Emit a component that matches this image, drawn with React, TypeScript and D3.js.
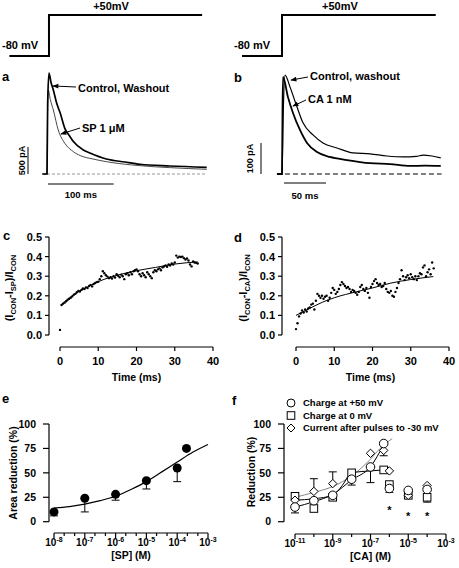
import React from 'react';
import * as d3 from 'd3';

const FONT = "'Liberation Sans', Arial, Helvetica, sans-serif";

// ---------- Panel a: currents (ms, pA) ----------
const aCtrlTime = [-7, 0, 1, 3, 6, 9.6, 14.7, 20, 27, 35, 40, 55, 65, 90, 118, 141, 186, 242];
const aCtrlCurr = [0, 0, 1300, 1870, 1700, 1555, 1309, 1130, 846, 690, 600, 444, 389, 278, 222, 180, 148, 124];
const aSpTime = [-7, 0, 0.8, 2, 5, 9.6, 17, 27, 40, 55, 65, 90, 141, 186, 242];
const aSpCurr = [0, 0, 1100, 1555, 1380, 1185, 815, 569, 413, 320, 290, 228, 154, 118, 87];

// ---------- Panel b: currents (ms, pA) ----------
const bCtrlTime = [-6, 0, 1.5, 3.6, 9.5, 17.9, 25, 36.9, 48.8, 65.5, 84.5, 104.8, 125, 144, 160, 168, 178.6, 189];
const bCtrlCurr = [0, 0, 200, 319, 281, 216, 165, 126, 100, 84, 68, 65, 58, 55, 57, 61, 58, 52];
const bCaTime = [-6, 0, 0.6, 1.2, 7.1, 13.1, 21.4, 29.8, 41.7, 57, 77.4, 104.8, 128.6, 152.4, 170, 189];
const bCaCurr = [0, 0, 200, 313, 248, 197, 142, 100, 71, 55, 45, 35, 32, 26, 27, 26];

// ---------- Panel c / d: fractional reduction, sampled every 0.4 ms ----------
const SAMPLE_MS = 0.4;
const cValues = [
  0.026, 0.153, 0.16, 0.165, 0.172, 0.18, 0.185, 0.19, 0.197, 0.205,
  0.21, 0.218, 0.225, 0.222, 0.23, 0.238, 0.235, 0.243, 0.24, 0.25,
  0.255, 0.248, 0.26, 0.265, 0.27, 0.272, 0.285, 0.3, 0.325, 0.315,
  0.305, 0.298, 0.29, 0.295, 0.288, 0.3, 0.293, 0.31, 0.302, 0.295,
  0.308, 0.3, 0.285, 0.31, 0.315, 0.305, 0.32, 0.31, 0.325, 0.33,
  0.335, 0.325, 0.31, 0.3, 0.315, 0.305, 0.295, 0.32, 0.31, 0.3,
  0.29, 0.32, 0.33, 0.325, 0.335, 0.34, 0.33, 0.345, 0.35, 0.355,
  0.348, 0.36, 0.355, 0.365, 0.36, 0.37, 0.405, 0.395, 0.4, 0.398,
  0.4, 0.392, 0.385, 0.39, 0.38, 0.36, 0.35, 0.375, 0.37, 0.368, 0.365,
];
const cFitTime = [0.3, 2.5, 5, 7.5, 10, 15, 20, 25, 30, 36];
const cFitVal = [0.152, 0.19, 0.222, 0.248, 0.272, 0.305, 0.328, 0.345, 0.362, 0.373];

const dValues = [
  0.03, 0.06, 0.095, 0.11, 0.125, 0.115, 0.13, 0.12, 0.135, 0.14,
  0.155, 0.16, 0.13, 0.175, 0.21, 0.2, 0.19, 0.2, 0.185, 0.195,
  0.2, 0.175, 0.19, 0.215, 0.24, 0.23, 0.21, 0.22, 0.235, 0.255,
  0.27, 0.26, 0.25, 0.24, 0.245, 0.235, 0.22, 0.23, 0.225, 0.215,
  0.205, 0.22, 0.245, 0.255, 0.235, 0.225, 0.24, 0.215, 0.19, 0.245,
  0.26, 0.275, 0.285, 0.265, 0.255, 0.26, 0.245, 0.25, 0.265, 0.235,
  0.22, 0.215, 0.225, 0.2, 0.195, 0.22, 0.24, 0.265, 0.285, 0.33,
  0.3, 0.28, 0.295, 0.305, 0.29, 0.31, 0.295, 0.285, 0.3, 0.28,
  0.3, 0.315, 0.31, 0.345, 0.355, 0.3, 0.32, 0.335, 0.31, 0.37, 0.34,
];
const dFitTime = [0, 3.5, 7, 10, 15.9, 20, 24.6, 30, 35.9];
const dFitVal = [0.1, 0.135, 0.168, 0.19, 0.221, 0.24, 0.264, 0.283, 0.298];

// ---------- Panel e: SP concentration response ----------
const eConc = [1e-8, 1e-7, 1e-6, 1e-5, 1e-4, 2e-4];
const eMean = [10, 24, 28, 42, 55, 75];
const eLower = [6, 10, 22, 33.5, 41, null];
const eFitLog = [-8, -7.5, -7, -6.5, -6, -5.5, -5, -4.5, -4, -3.5, -3];
const eFitVal = [14, 15.5, 18, 21.5, 26, 33, 41, 51, 61, 71, 79];

// ---------- Panel f: CA concentration response ----------
const fCircConc = [1e-11, 1e-10, 1e-9, 1e-8, 1e-7, 5e-7, 1e-6, 1e-5, 1e-4];
const fCircVal = [15, 21.5, 27, 43.5, 56, 80, 34, 32, 33];
const fCircErr = [9, null, null, 37.5, 40, null, null, 24, null];
const fSqConc = [1e-11, 1e-10, 1e-9, 1e-8, 5e-7, 1e-6, 1e-5, 1e-4];
const fSqVal = [26, 13.5, 25, 50, 53, 38, 27, 25];
const fSqErr = [29, null, null, null, null, 30, null, 20];
const fDiaConc = [1e-11, 1e-10, 1e-9, 1e-7, 5e-7, 1e-6, 1e-5, 1e-4];
const fDiaVal = [22, 31, 39, 70, 73, 52, 27, 37];
const fDiaErr = [null, 44, 51, null, 67.5, null, null, null];
const fStarConc = [1e-6, 1e-5, 1e-4];
const fStarVal = [15, 9, 8];
const fCircFitLog = [-11, -10, -9, -8, -7, -6.3];
const fCircFitVal = [15, 20.5, 28, 42.7, 56.3, 79];
const fSqFitLog = [-11, -10, -9, -8.5, -8, -7, -6.3];
const fSqFitVal = [22, 23.5, 27, 37, 50, 52, 53];
const fDiaFitLog = [-11, -10, -9, -8, -7, -6.5, -5.85];
const fDiaFitVal = [25, 30, 36, 47, 64, 75, 85];
const fLegend = ['Charge at +50 mV', 'Charge at 0 mV', 'Current after pulses to -30 mV'];

const pct = [0, 25, 50, 75, 100];
const fracTicks = [0, 0.1, 0.2, 0.3, 0.4, 0.5];
const timeTicks = [0, 10, 20, 30, 40];

// ---------- scales ----------
const xA = d3.scaleLinear().domain([0, 100]).range([47, 113]);
const yA = d3.scaleLinear().domain([0, 500]).range([174, 147]);
const xB = d3.scaleLinear().domain([0, 50]).range([282, 324]);
const yB = d3.scaleLinear().domain([0, 100]).range([174, 143]);
const vStep = d3.scaleLinear().domain([-80, 50]).range([56, 15]);

const xC = d3.scaleLinear().domain([0, 40]).range([60, 213]);
const xD = d3.scaleLinear().domain([0, 40]).range([296, 449]);
const yCD = d3.scaleLinear().domain([0, 0.5]).range([335, 237]);
const xE = d3.scaleLog().domain([1e-8, 1e-3]).range([54, 208]);
const xF = d3.scaleLog().domain([1e-11, 1e-3]).range([295, 446]);
const yEF = d3.scaleLinear().domain([0, 100]).range([521.7, 424]);

const T = { fontFamily: FONT, fontWeight: 'bold' as const, fill: '#000' };

function traceLine(times: number[], vals: number[], x: any, y: any) {
  const pts = times.map((t, i) => [t, vals[i]] as [number, number]);
  return d3.line<[number, number]>().x(d => x(d[0])).y(d => y(d[1])).curve(d3.curveMonotoneX)(pts) || '';
}

function YAxis({ scale, x, ticks, fmt, tickLen, pad, fs }: any) {
  return (
    <g>
      <line x1={x} x2={x} y1={scale(ticks[0])} y2={scale(ticks[ticks.length - 1])} stroke="#000" strokeWidth={1.2} />
      {ticks.map((t: number) => (
        <g key={t}>
          <line x1={x - tickLen} x2={x} y1={scale(t)} y2={scale(t)} stroke="#000" strokeWidth={1.2} />
          <text x={x - tickLen - pad} y={scale(t)} dy="0.36em" textAnchor="end" fontSize={fs} {...T}>{fmt(t)}</text>
        </g>
      ))}
    </g>
  );
}

function LinXAxis({ scale, y, ticks, fs }: any) {
  const [a, b] = scale.range();
  return (
    <g>
      <line x1={a} x2={b} y1={y} y2={y} stroke="#000" strokeWidth={1.2} />
      {ticks.map((t: number) => (
        <g key={t}>
          <line x1={scale(t)} x2={scale(t)} y1={y} y2={y + 4} stroke="#000" strokeWidth={1.2} />
          <text x={scale(t)} y={y + 18} textAnchor="middle" fontSize={fs} {...T}>{t}</text>
        </g>
      ))}
    </g>
  );
}

function LogXAxis({ scale, y, major, minor, labeled, fs }: any) {
  const [a, b] = scale.range();
  return (
    <g>
      <line x1={a} x2={b} y1={y} y2={y} stroke="#000" strokeWidth={1.2} />
      {minor.map((e: number) => (
        <line key={'m' + e} x1={scale(Math.pow(10, e))} x2={scale(Math.pow(10, e))} y1={y} y2={y + 3} stroke="#000" strokeWidth={1.2} />
      ))}
      {major.map((e: number) => (
        <g key={e}>
          <line x1={scale(Math.pow(10, e))} x2={scale(Math.pow(10, e))} y1={y} y2={y + 5} stroke="#000" strokeWidth={1.2} />
          {labeled.includes(e) && (
            <text x={scale(Math.pow(10, e))} y={y + 12.5} textAnchor="middle" fontSize={fs} {...T}>
              10<tspan dy={-4} fontSize={7}>{e}</tspan>
            </text>
          )}
        </g>
      ))}
    </g>
  );
}

function Diamond({ cx, cy, r }: any) {
  return <path d={`M${cx},${cy - r}L${cx + r},${cy}L${cx},${cy + r}L${cx - r},${cy}Z`} fill="#fff" stroke="#000" strokeWidth={1} />;
}
function Square({ cx, cy, r }: any) {
  return <rect x={cx - r} y={cy - r} width={2 * r} height={2 * r} fill="#fff" stroke="#000" strokeWidth={1} />;
}
function Circ({ cx, cy, r }: any) {
  return <circle cx={cx} cy={cy} r={r} fill="#fff" stroke="#000" strokeWidth={1} />;
}

function ErrBar({ x, y1, y2 }: any) {
  return (
    <g stroke="#000" strokeWidth={1}>
      <line x1={x} x2={x} y1={y1} y2={y2} />
      <line x1={x - 4} x2={x + 4} y1={y2} y2={y2} />
    </g>
  );
}

export default function App() {
  const ctrlA = traceLine(aCtrlTime, aCtrlCurr, xA, yA);
  const spA = traceLine(aSpTime, aSpCurr, xA, yA);
  const ctrlB = traceLine(bCtrlTime, bCtrlCurr, xB, yB);
  const caB = traceLine(bCaTime, bCaCurr, xB, yB);

  const fitPath = (xs: number[], ys: number[], x: any, y: any, log: boolean) =>
    d3.line<number>().x((_, i) => x(log ? Math.pow(10, xs[i]) : xs[i])).y((d) => y(d)).curve(d3.curveMonotoneX)(ys) || '';

  const stepPath = (x: any, t0: number, tStep: number, t1: number) =>
    `M${x(t0)},${vStep(-80)}H${x(tStep)}V${vStep(50)}H${x(t1)}`;

  return (
    <svg width={459} height={568} style={{ position: 'absolute', left: 0, top: 0, background: '#fff' }} fontFamily={FONT}>
      <defs>
        <marker id="arr" viewBox="0 0 10 10" refX={9} refY={5} markerWidth={7} markerHeight={6} orient="auto" markerUnits="userSpaceOnUse">
          <path d="M0,1L10,5L0,9Z" fill="#000" />
        </marker>
      </defs>
      <rect width={459} height={568} fill="#fff" />

      {/* ---------- voltage steps ---------- */}
      <path d={stepPath(xA, -57, 3, 235)} fill="none" stroke="#000" strokeWidth={2} />
      <text x={xA(97)} y={10} textAnchor="middle" fontSize={11} {...T}>+50mV</text>
      <text x={2} y={49} fontSize={11} {...T}>-80 mV</text>
      <path d={stepPath(xB, -47.6, 0, 183)} fill="none" stroke="#000" strokeWidth={2} />
      <text x={xB(69)} y={10} textAnchor="middle" fontSize={11} {...T}>+50mV</text>
      <text x={234} y={49} fontSize={11} {...T}>-80 mV</text>

      {/* ---------- panel a ---------- */}
      <text x={2} y={81} fontSize={13} {...T}>a</text>
      <line x1={xA(0)} x2={xA(242)} y1={yA(0)} y2={yA(0)} stroke="#999" strokeWidth={1} strokeDasharray="3,2" />
      <path d={spA} fill="none" stroke="#333" strokeWidth={0.9} />
      <path d={ctrlA} fill="none" stroke="#000" strokeWidth={1.7} />
      <line x1={76} y1={87} x2={xA(9)} y2={yA(1630)} stroke="#000" strokeWidth={1} markerEnd="url(#arr)" />
      <text x={78} y={92} fontSize={11} {...T}>Control, Washout</text>
      <line x1={80} y1={128} x2={xA(21)} y2={yA(740)} stroke="#000" strokeWidth={1} markerEnd="url(#arr)" />
      <text x={82} y={132} fontSize={11} {...T}>SP 1 μM</text>
      <line x1={28} x2={28} y1={yA(0)} y2={yA(500)} stroke="#000" strokeWidth={1} />
      <text transform={`translate(22,${(yA(0) + yA(500)) / 2}) rotate(-90)`} textAnchor="middle" dy="0.35em" fontSize={9} {...T}>500 pA</text>
      <line x1={xA(1.5)} x2={xA(101)} y1={184} y2={184} stroke="#000" strokeWidth={1} />
      <text x={(xA(1.5) + xA(101)) / 2} y={198} textAnchor="middle" fontSize={9.5} {...T}>100 ms</text>

      {/* ---------- panel b ---------- */}
      <text x={234} y={82} fontSize={13} {...T}>b</text>
      <line x1={xB(-6)} x2={xB(190)} y1={yB(0)} y2={yB(0)} stroke="#000" strokeWidth={1} strokeDasharray="5,3" />
      <path d={caB} fill="none" stroke="#000" strokeWidth={1.8} />
      <path d={ctrlB} fill="none" stroke="#000" strokeWidth={1.2} />
      <line x1={308} y1={77} x2={xB(10.7)} y2={yB(303)} stroke="#000" strokeWidth={1} markerEnd="url(#arr)" />
      <text x={310} y={80} fontSize={11} {...T}>Control, washout</text>
      <line x1={306} y1={100} x2={xB(13)} y2={yB(219)} stroke="#000" strokeWidth={1} markerEnd="url(#arr)" />
      <text x={308} y={103} fontSize={11} {...T}>CA 1 nM</text>
      <line x1={261} x2={261} y1={yB(0)} y2={yB(100)} stroke="#000" strokeWidth={1} />
      <text transform={`translate(250,${(yB(0) + yB(100)) / 2}) rotate(-90)`} textAnchor="middle" dy="0.35em" fontSize={9} {...T}>100 pA</text>
      <line x1={xB(2.4)} x2={xB(52.4)} y1={183} y2={183} stroke="#000" strokeWidth={1} />
      <text x={(xB(2.4) + xB(52.4)) / 2} y={199} textAnchor="middle" fontSize={9.5} {...T}>50 ms</text>

      {/* ---------- panel c ---------- */}
      <text x={3} y={240} fontSize={13} {...T}>c</text>
      <YAxis scale={yCD} x={49} ticks={fracTicks} fmt={d3.format('.1f')} tickLen={4} pad={3} fs={11} />
      <LinXAxis scale={xC} y={347} ticks={timeTicks} fs={11} />
      <text x={(xC(0) + xC(40)) / 2} y={381} textAnchor="middle" fontSize={10.5} {...T}>Time (ms)</text>
      <text transform="translate(13,288) rotate(-90)" textAnchor="middle" fontSize={11} {...T}>
        (I<tspan fontSize={7.5} dy={2.5}>CON</tspan><tspan dy={-2.5}>-I</tspan><tspan fontSize={7.5} dy={2.5}>SP</tspan><tspan dy={-2.5}>)/I</tspan><tspan fontSize={7.5} dy={2.5}>CON</tspan>
      </text>
      <path d={fitPath(cFitTime, cFitVal, xC, yCD, false)} fill="none" stroke="#000" strokeWidth={1} />
      {cValues.map((v, i) => (
        <circle key={i} cx={xC(i * SAMPLE_MS)} cy={yCD(v)} r={1.2} fill="#000" />
      ))}

      {/* ---------- panel d ---------- */}
      <text x={234} y={242} fontSize={13} {...T}>d</text>
      <YAxis scale={yCD} x={282} ticks={fracTicks} fmt={d3.format('.1f')} tickLen={4} pad={3} fs={11} />
      <LinXAxis scale={xD} y={347} ticks={timeTicks} fs={11} />
      <text x={(xD(0) + xD(40)) / 2 - 2} y={381} textAnchor="middle" fontSize={10.5} {...T}>Time (ms)</text>
      <text transform="translate(247,288) rotate(-90)" textAnchor="middle" fontSize={11} {...T}>
        (I<tspan fontSize={7.5} dy={2.5}>CON</tspan><tspan dy={-2.5}>-I</tspan><tspan fontSize={7.5} dy={2.5}>CA</tspan><tspan dy={-2.5}>)/I</tspan><tspan fontSize={7.5} dy={2.5}>CON</tspan>
      </text>
      <path d={fitPath(dFitTime, dFitVal, xD, yCD, false)} fill="none" stroke="#000" strokeWidth={1} />
      {dValues.map((v, i) => (
        <circle key={i} cx={xD(i * SAMPLE_MS)} cy={yCD(v)} r={1.2} fill="#000" />
      ))}

      {/* ---------- panel e ---------- */}
      <text x={2} y={403} fontSize={13} {...T}>e</text>
      <YAxis scale={yEF} x={49} ticks={pct} fmt={(d: number) => String(d)} tickLen={6} pad={7} fs={10.5} />
      <LogXAxis scale={xE} y={533} major={[-8, -7, -6, -5, -4, -3]} minor={[-7.67, -7.33, -6.67, -6.33, -5.67, -5.33, -4.67, -4.33, -3.67, -3.33]} labeled={[-8, -7, -6, -5, -4, -3]} fs={10} />
      <text x={(xE(1e-8) + xE(1e-3)) / 2} y={559} textAnchor="middle" fontSize={10.5} {...T}>[SP] (M)</text>
      <text transform="translate(13,473) rotate(-90)" textAnchor="middle" dy="0.35em" fontSize={10.5} {...T}>Area reduction (%)</text>
      <path d={fitPath(eFitLog, eFitVal, xE, yEF, true)} fill="none" stroke="#000" strokeWidth={1.2} />
      {eConc.map((c, i) => (
        <g key={i}>
          {eLower[i] != null && <ErrBar x={xE(c)} y1={yEF(eMean[i])} y2={yEF(eLower[i] as number)} />}
          <circle cx={xE(c)} cy={yEF(eMean[i])} r={4.5} fill="#000" />
        </g>
      ))}

      {/* ---------- panel f ---------- */}
      <text x={232} y={405} fontSize={13} {...T}>f</text>
      <YAxis scale={yEF} x={284} ticks={pct} fmt={(d: number) => String(d)} tickLen={6} pad={7} fs={10.5} />
      <LogXAxis scale={xF} y={534} major={[-11, -9, -7, -5, -3]} minor={[-10, -8, -6, -4]} labeled={[-11, -9, -7, -5, -3]} fs={10} />
      <text x={(xF(1e-11) + xF(1e-3)) / 2} y={560} textAnchor="middle" fontSize={10.5} {...T}>[CA] (M)</text>
      <text transform="translate(251,472) rotate(-90)" textAnchor="middle" dy="0.35em" fontSize={10.5} {...T}>Reduction (%)</text>
      {/* legend */}
      {fLegend.map((s, i) => {
        const ly = 403 + i * 12.5;
        return (
          <g key={s}>
            {i === 0 && <Circ cx={291} cy={ly} r={4} />}
            {i === 1 && <Square cx={291} cy={ly} r={3.8} />}
            {i === 2 && <Diamond cx={291} cy={ly} r={4} />}
            <text x={303} y={ly} dy="0.36em" fontSize={9.5} {...T}>{s}</text>
          </g>
        );
      })}
      {/* fits */}
      <path d={fitPath(fDiaFitLog, fDiaFitVal, xF, yEF, true)} fill="none" stroke="#888" strokeWidth={1} />
      <path d={fitPath(fSqFitLog, fSqFitVal, xF, yEF, true)} fill="none" stroke="#000" strokeWidth={1} />
      <path d={fitPath(fCircFitLog, fCircFitVal, xF, yEF, true)} fill="none" stroke="#000" strokeWidth={1} />
      {/* error bars */}
      {fCircConc.map((c, i) => fCircErr[i] != null && <ErrBar key={'ce' + i} x={xF(c)} y1={yEF(fCircVal[i])} y2={yEF(fCircErr[i] as number)} />)}
      {fSqConc.map((c, i) => fSqErr[i] != null && <ErrBar key={'se' + i} x={xF(c)} y1={yEF(fSqVal[i])} y2={yEF(fSqErr[i] as number)} />)}
      {fDiaConc.map((c, i) => fDiaErr[i] != null && <ErrBar key={'de' + i} x={xF(c)} y1={yEF(fDiaVal[i])} y2={yEF(fDiaErr[i] as number)} />)}
      {/* symbols */}
      {fSqConc.map((c, i) => <Square key={'s' + i} cx={xF(c)} cy={yEF(fSqVal[i])} r={3.8} />)}
      {fDiaConc.map((c, i) => <Diamond key={'d' + i} cx={xF(c)} cy={yEF(fDiaVal[i])} r={4.2} />)}
      {fCircConc.map((c, i) => <Circ key={'c' + i} cx={xF(c)} cy={yEF(fCircVal[i])} r={4.3} />)}
      {fStarConc.map((c, i) => (
        <text key={'st' + i} x={xF(c)} y={yEF(fStarVal[i])} dy="0.6em" textAnchor="middle" fontSize={11} {...T}>*</text>
      ))}
    </svg>
  );
}
